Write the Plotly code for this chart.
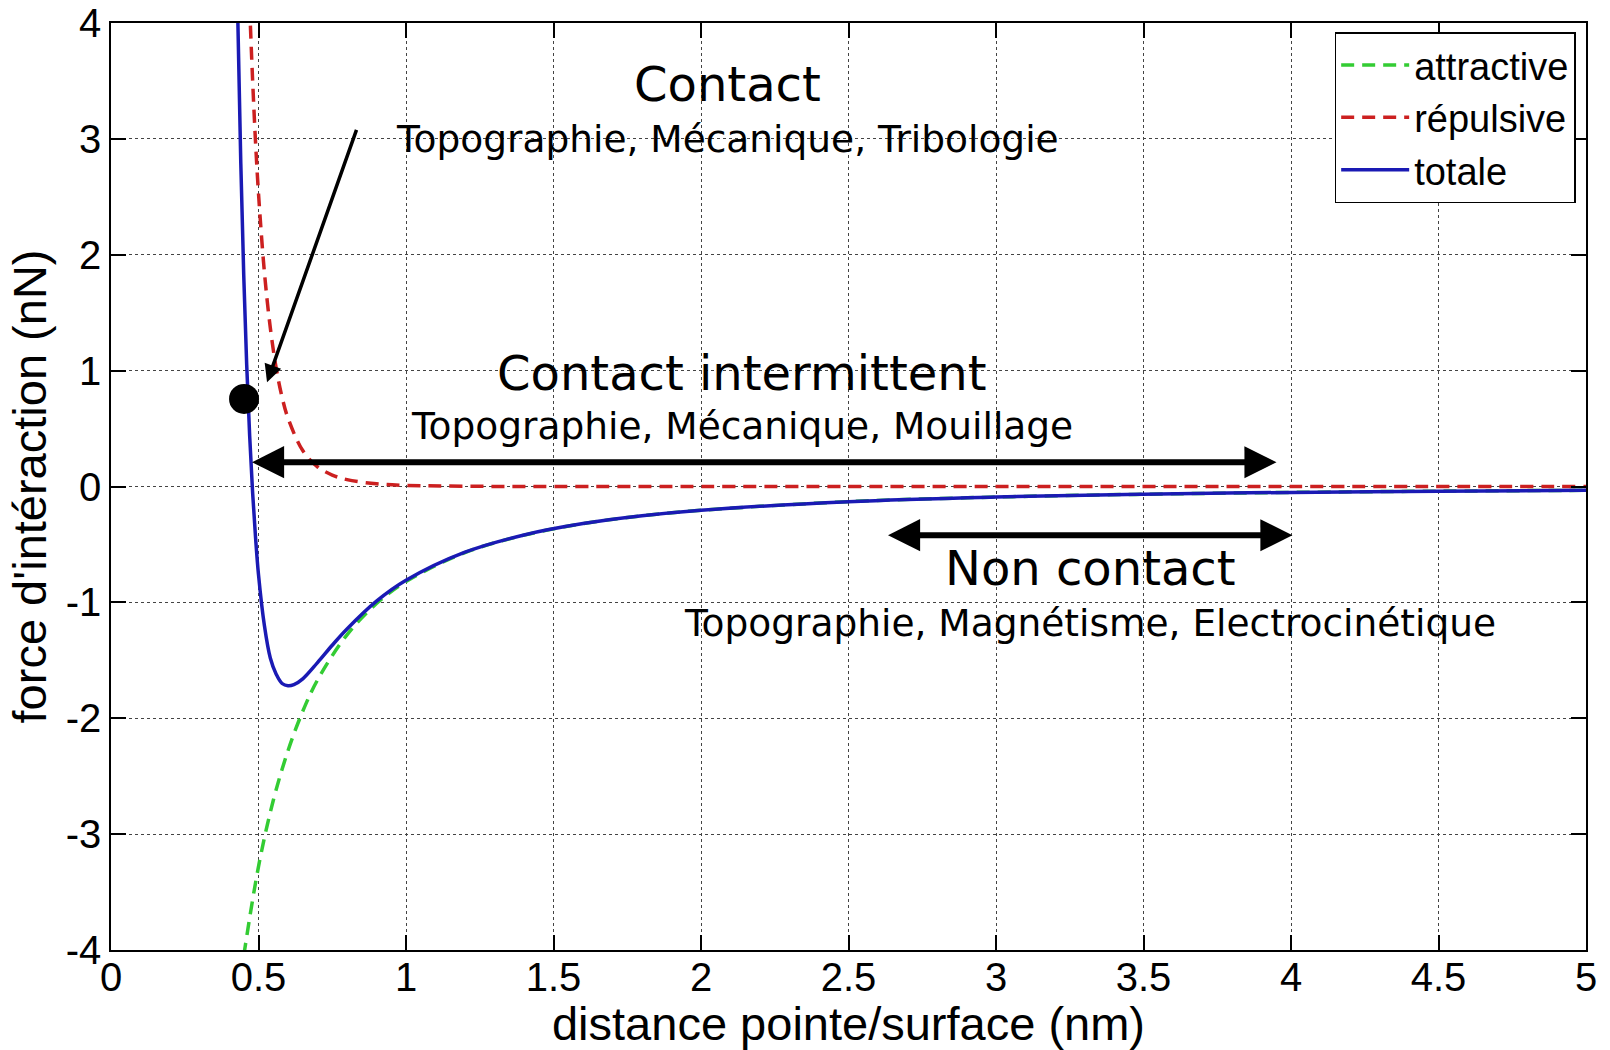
import plotly.graph_objects as go

# ---- data ----
x_attr = [0.45, 0.5, 0.55, 0.6, 0.65, 0.7, 0.8, 0.9, 1.0, 1.2, 1.4, 1.6, 1.8, 2.0,
          2.5, 3.0, 3.5, 4.0, 4.5, 5.0]
f_attr = [-4.05, -3.28, -2.71, -2.28, -1.94, -1.67, -1.28, -1.01, -0.82, -0.57, -0.42,
          -0.32, -0.253, -0.205, -0.131, -0.091, -0.067, -0.051, -0.040, -0.033]

x_rep = [0.465, 0.47, 0.48, 0.49, 0.50, 0.52, 0.54, 0.56, 0.58, 0.60, 0.65, 0.70,
         0.75, 0.80, 0.90, 1.0, 1.2, 1.5, 2.0, 3.0, 4.0, 5.0]
f_rep = [4.52, 4.15, 3.51, 2.97, 2.53, 1.85, 1.37, 1.02, 0.77, 0.59, 0.31, 0.17,
         0.099, 0.059, 0.023, 0.010, 0.0023, 0.0004, 0.0, 0.0, 0.0, 0.0]

x_tot = [0.43, 0.44, 0.45, 0.46, 0.47, 0.48, 0.49, 0.50, 0.52, 0.54, 0.56, 0.58, 0.60,
         0.62, 0.65, 0.70, 0.75, 0.80, 0.90, 1.0, 1.2, 1.4, 1.6, 1.8, 2.0, 2.5, 3.0,
         3.5, 4.0, 4.5, 5.0]
f_tot = [4.02, 2.79, 1.82, 1.05, 0.44, -0.05, -0.44, -0.76, -1.20, -1.48, -1.62, -1.70,
         -1.72, -1.71, -1.66, -1.52, -1.37, -1.23, -0.99, -0.81, -0.567, -0.418, -0.32,
         -0.253, -0.205, -0.131, -0.091, -0.067, -0.051, -0.040, -0.033]

series_names = ["attractive", "répulsive", "totale"]

x_ticks = [0, 0.5, 1, 1.5, 2, 2.5, 3, 3.5, 4, 4.5, 5]
x_tick_labels = ["0", "0.5", "1", "1.5", "2", "2.5", "3", "3.5", "4", "4.5", "5"]
y_ticks = [-4, -3, -2, -1, 0, 1, 2, 3, 4]
y_tick_labels = ["-4", "-3", "-2", "-1", "0", "1", "2", "3", "4"]

dot_x = [0.451]
dot_y = [0.756]

big_font = 48
small_font = 37.5

fig = go.Figure()
fig.add_trace(go.Scatter(x=x_attr, y=f_attr, name=series_names[0], mode="lines",
                         line=dict(color="#33cc33", width=3.5, dash="13px,8px", shape="spline")))
fig.add_trace(go.Scatter(x=x_rep, y=f_rep, name=series_names[1], mode="lines",
                         line=dict(color="#cc2020", width=3.5, dash="13px,8px", shape="spline")))
fig.add_trace(go.Scatter(x=x_tot, y=f_tot, name=series_names[2], mode="lines",
                         line=dict(color="#1a1ab4", width=3.5, shape="spline")))
fig.add_trace(go.Scatter(x=dot_x, y=dot_y, mode="markers", showlegend=False,
                         marker=dict(color="black", size=30), cliponaxis=False))

txt = dict(family="DejaVu Sans", color="black")
anns = [
    dict(x=2.09, y=3.47, text="Contact", font=dict(size=big_font, **txt)),
    dict(x=2.09, y=3.0, text="Topographie, Mécanique, Tribologie", font=dict(size=small_font, **txt)),
    dict(x=2.14, y=0.98, text="Contact intermittent", font=dict(size=big_font, **txt)),
    dict(x=2.14, y=0.52, text="Topographie, Mécanique, Mouillage", font=dict(size=small_font, **txt)),
    dict(x=3.32, y=-0.70, text="Non contact", font=dict(size=big_font, **txt)),
    dict(x=3.32, y=-1.18, text="Topographie, Magnétisme, Electrocinétique", font=dict(size=small_font, **txt)),
]
for a in anns:
    a.update(xref="x", yref="y", showarrow=False, xanchor="center", yanchor="middle")

arrows = [
    dict(x=0.529, y=0.90, ax=0.834, ay=3.09, arrowhead=2, arrowsize=1.0, arrowwidth=3.5),
    dict(x=0.478, y=0.21, ax=3.956, ay=0.21, arrowhead=2, arrowsize=1.07, arrowwidth=6,
         arrowside="end+start", startarrowhead=2, startarrowsize=1.07),
    dict(x=2.634, y=-0.42, ax=4.01, ay=-0.42, arrowhead=2, arrowsize=1.07, arrowwidth=6,
         arrowside="end+start", startarrowhead=2, startarrowsize=1.07),
]
for a in arrows:
    a.update(xref="x", yref="y", axref="x", ayref="y", text="", showarrow=True,
             arrowcolor="black", standoff=0, startstandoff=0)

fig.update_layout(
    width=1610, height=1050,
    paper_bgcolor="white", plot_bgcolor="white",
    margin=dict(l=111, r=24, t=23, b=100, autoexpand=False),
    annotations=anns + arrows,
    font=dict(family="Liberation Sans", color="black"),
    legend=dict(x=0.993, y=0.99, xanchor="right", yanchor="top",
                bgcolor="white", bordercolor="black", borderwidth=1.5,
                font=dict(family="Liberation Sans", size=38, color="black"),
                tracegroupgap=0, itemwidth=68),
)
axis_common = dict(showline=True, linecolor="black", linewidth=1.5, mirror="ticks",
                   ticks="inside", ticklen=15, tickwidth=1.5, tickcolor="black",
                   showgrid=True, gridcolor="#444444", gridwidth=1, griddash="dot",
                   zeroline=False, tickfont=dict(family="Liberation Sans", size=40, color="black"),
                   automargin=False)
fig.update_xaxes(range=[0, 5], tickvals=x_ticks, ticktext=x_tick_labels, ticklabelstandoff=-9,
                 title=dict(text="distance pointe/surface (nm)", standoff=2,
                            font=dict(family="Liberation Sans", size=47, color="black")),
                 **axis_common)
fig.update_yaxes(range=[-4, 4], tickvals=y_ticks, ticktext=y_tick_labels,
                 title=dict(text="force d'intéraction (nN)", standoff=4,
                            font=dict(family="Liberation Sans", size=47, color="black")),
                 **axis_common)

fig.write_html("out.html")
